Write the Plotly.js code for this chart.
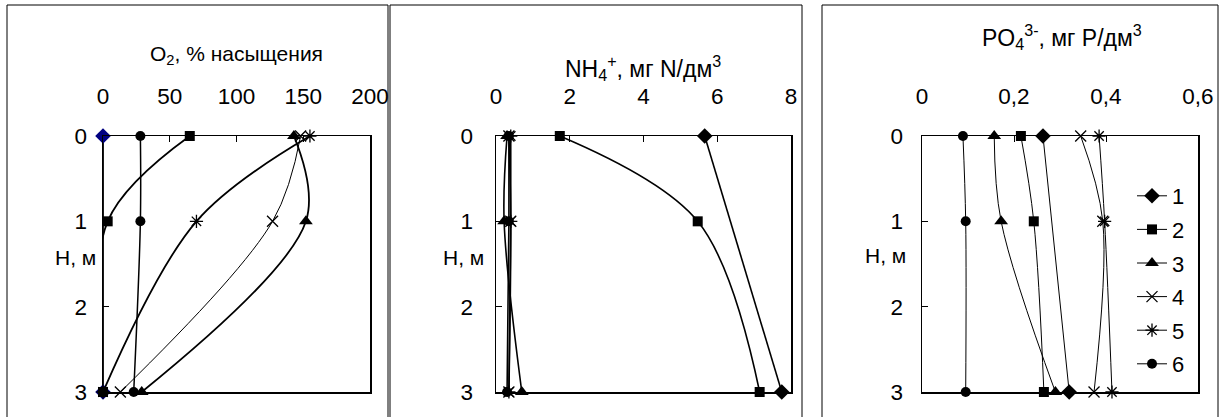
<!DOCTYPE html>
<html>
<head>
<meta charset="utf-8">
<script src="https://cdn.plot.ly/plotly-3.0.1.min.js"></script>
<style>html,body{margin:0;padding:0;background:#fff;}#chart{width:1219px;height:417px;}</style>
</head>
<body>
<div id="chart"></div>
<script>
// Depths, m
const depths = [0, 1, 3];
const seriesNames = ['1', '2', '3', '4', '5', '6'];

// O2, % saturation
const o2_1 = [0, null, 0];
const o2_2 = [65, 3.5, 0];
const o2_3 = [143, 152, 29];
const o2_4 = [148, 127, 13];
const o2_5 = [155, 70, 0];
const o2_6 = [28, 28, 23];

// NH4+, mg N/dm3
const nh4_1 = [5.66, null, 7.75];
const nh4_2 = [1.73, 5.47, 7.15];
const nh4_3 = [0.3, 0.22, 0.7];
const nh4_4 = [0.35, 0.4, 0.35];
const nh4_5 = [0.4, 0.4, 0.35];
const nh4_6 = [0.35, 0.35, 0.3];

// PO4 3-, mg P/dm3
const po4_1 = [0.263, null, 0.32];
const po4_2 = [0.215, 0.243, 0.265];
const po4_3 = [0.157, 0.172, 0.29];
const po4_4 = [0.345, 0.393, 0.374];
const po4_5 = [0.385, 0.397, 0.413];
const po4_6 = [0.089, 0.095, 0.095];

// Tick labels
const o2Ticks = [0, 50, 100, 150, 200];
const nh4Ticks = [0, 2, 4, 6, 8];
const po4Ticks = [0, 0.2, 0.4, 0.6];
const po4TickText = ['0', '0,2', '0,4', '0,6'];
const depthTicks = [0, 1, 2, 3];

const W = 1219, H = 417;
const px = v => v / W;
const py = v => 1 - v / H;

const symbols = ['diamond', 'square', 'triangle-up', 'x-thin-open', 'asterisk-open', 'circle'];
const sizes = [12, 10, 12, 11, 11, 10];

function makeTraces(sets, xa, ya, widths, showLegend, firstColor) {
  return sets.map((vals, i) => ({
    type: 'scatter',
    mode: 'lines+markers',
    x: vals,
    y: depths,
    xaxis: xa,
    yaxis: ya,
    name: seriesNames[i],
    legendgroup: 'g' + i,
    showlegend: showLegend,
    connectgaps: true,
    cliponaxis: false,
    line: {color: '#000', width: widths[i], shape: 'spline', smoothing: 1},
    marker: {
      symbol: symbols[i],
      size: sizes[i],
      color: (i === 0 && firstColor) ? firstColor : '#000',
      line: {color: (i === 0 && firstColor) ? firstColor : '#000', width: (i === 3 || i === 4) ? 1.3 : 0}
    },
    hoverinfo: 'x+y'
  }));
}

const traces = [].concat(
  makeTraces([o2_1, o2_2, o2_3, o2_4, o2_5, o2_6], 'x', 'y', [1.8, 1.8, 1.8, 1, 1.8, 1.5], false, '#000080'),
  makeTraces([nh4_1, nh4_2, nh4_3, nh4_4, nh4_5, nh4_6], 'x2', 'y2', [1.6, 1.6, 1.6, 1.6, 1.6, 1.6], false, null),
  makeTraces([po4_1, po4_2, po4_3, po4_4, po4_5, po4_6], 'x3', 'y3', [1, 1, 1, 1, 1, 1], true, null)
);

const font = {family: 'Liberation Sans, Arial, sans-serif', size: 21, color: '#000'};
const tickFont = {family: 'Liberation Sans, Arial, sans-serif', size: 22.5, color: '#000'};
const bigFont = {family: 'Liberation Sans, Arial, sans-serif', size: 23, color: '#000'};

function xAxis(domain, range, tickvals, ticktext, anchor) {
  const a = {
    domain: domain, range: range, anchor: anchor, side: 'top',
    tickvals: tickvals, ticks: 'inside', ticklen: 6, tickwidth: 1, tickcolor: '#000',
    showline: true, mirror: true, linewidth: 1.5, linecolor: '#000',
    showgrid: false, zeroline: false, fixedrange: true,
    tickfont: tickFont, ticklabelstandoff: 22
  };
  if (ticktext) a.ticktext = ticktext;
  return a;
}
function yAxis(domain, anchor, standoff) {
  return {
    domain: domain, range: [3, 0], anchor: anchor,
    tickvals: depthTicks, ticks: 'inside', ticklen: 6, tickwidth: 1, tickcolor: '#000',
    showline: true, mirror: true, linewidth: 1.5, linecolor: '#000',
    showgrid: false, zeroline: false, fixedrange: true,
    tickfont: tickFont, ticklabelstandoff: standoff
  };
}

const yDom = [py(392), py(136)];

const layout = {
  width: W, height: H,
  margin: {l: 0, r: 0, t: 0, b: 0},
  paper_bgcolor: '#fff', plot_bgcolor: '#fff',
  font: font,
  showlegend: true,
  xaxis: xAxis([px(103), px(370)], [0, 200], o2Ticks, null, 'y'),
  yaxis: yAxis(yDom, 'x', 10),
  xaxis2: xAxis([px(496), px(791)], [0, 8], nh4Ticks, null, 'y2'),
  yaxis2: yAxis(yDom, 'x2', 17),
  xaxis3: xAxis([px(922), px(1198)], [0, 0.6], po4Ticks, po4TickText, 'y3'),
  yaxis3: yAxis(yDom, 'x3', 13),
  legend: {
    x: px(1132), y: py(175), xanchor: 'left', yanchor: 'top',
    bgcolor: 'rgba(255,255,255,0)', borderwidth: 0,
    font: {family: 'Liberation Sans, Arial, sans-serif', size: 22, color: '#000'},
    tracegroupgap: 2, traceorder: 'grouped'
  },
  shapes: [
    {type: 'rect', xref: 'paper', yref: 'paper', x0: px(7), x1: px(388), y0: -0.1, y1: py(5), line: {color: '#000', width: 1}},
    {type: 'rect', xref: 'paper', yref: 'paper', x0: px(390), x1: px(802), y0: -0.1, y1: py(5), line: {color: '#000', width: 1}},
    {type: 'rect', xref: 'paper', yref: 'paper', x0: px(822), x1: px(1218), y0: -0.1, y1: py(5), line: {color: '#000', width: 1}}
  ],
  annotations: [
    {xref: 'paper', yref: 'paper', x: px(236), y: py(55), text: 'O<sub>2</sub>, % насыщения', showarrow: false, font: font, xanchor: 'center', yanchor: 'middle'},
    {xref: 'paper', yref: 'paper', x: px(643), y: py(68), text: 'NH<sub>4</sub><sup>+</sup>, мг N/дм<sup>3</sup>', showarrow: false, font: bigFont, xanchor: 'center', yanchor: 'middle'},
    {xref: 'paper', yref: 'paper', x: px(1062), y: py(37), text: 'PO<sub>4</sub><sup>3-</sup>, мг P/дм<sup>3</sup>', showarrow: false, font: bigFont, xanchor: 'center', yanchor: 'middle'},
    {xref: 'paper', yref: 'paper', x: px(75), y: py(257), text: 'Н, м', showarrow: false, font: font, xanchor: 'center', yanchor: 'middle'},
    {xref: 'paper', yref: 'paper', x: px(463), y: py(257), text: 'Н, м', showarrow: false, font: font, xanchor: 'center', yanchor: 'middle'},
    {xref: 'paper', yref: 'paper', x: px(885), y: py(255), text: 'Н, м', showarrow: false, font: font, xanchor: 'center', yanchor: 'middle'}
  ]
};

Plotly.newPlot('chart', traces, layout, {staticPlot: true, displayModeBar: false});
</script>
</body>
</html>
